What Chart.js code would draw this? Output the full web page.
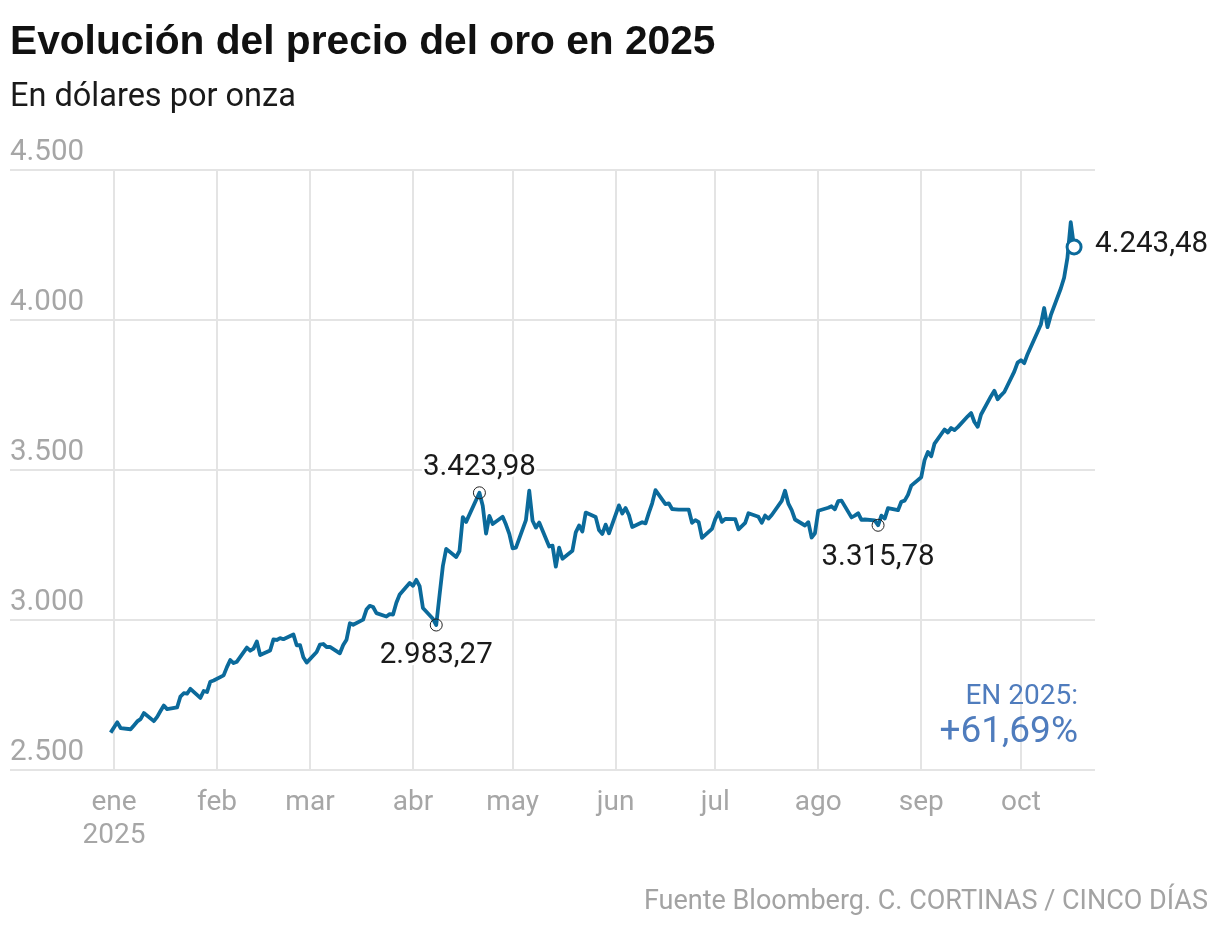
<!DOCTYPE html>
<html lang="es">
<head>
<meta charset="utf-8">
<script src="https://cdn.jsdelivr.net/npm/chart.js@4.4.1/dist/chart.umd.min.js"></script>
<style>
  html, body { margin: 0; padding: 0; background: #fff; }
  #wrap { position: relative; width: 1220px; height: 932px; overflow: hidden; }
  #c { position: absolute; left: 0; top: 0; }
  .txt { position: absolute; font-family: Roboto, "Liberation Sans", sans-serif; line-height: 1; white-space: nowrap; }
  #title { left: 10px; top: 20px; font-family: "Liberation Sans", Arial, sans-serif; font-size: 40.7px; font-weight: 700; color: #111111; }
  #subtitle { left: 10px; top: 79px; font-size: 32.5px; font-weight: 400; color: #1a1a1a; }
  #source { right: 12px; top: 887px; font-size: 27px; color: #a3a3a3; }
</style>
</head>
<body>
<div id="wrap">
  <canvas id="c" width="1220" height="932"></canvas>
  <div class="txt" id="title">Evolución del precio del oro en 2025</div>
  <div class="txt" id="subtitle">En dólares por onza</div>
  <div class="txt" id="source">Fuente Bloomberg. C. CORTINAS / CINCO DÍAS</div>
</div>
<script>
// ---- Data ----
const dates = [
  "2024-12-31",
  "2025-01-02","2025-01-03","2025-01-06","2025-01-07","2025-01-08","2025-01-09","2025-01-10",
  "2025-01-13","2025-01-14","2025-01-15","2025-01-16","2025-01-17","2025-01-20","2025-01-21",
  "2025-01-22","2025-01-23","2025-01-24","2025-01-27","2025-01-28","2025-01-29","2025-01-30","2025-01-31",
  "2025-02-03","2025-02-04","2025-02-05","2025-02-06","2025-02-07","2025-02-10","2025-02-11",
  "2025-02-12","2025-02-13","2025-02-14","2025-02-17","2025-02-18","2025-02-19","2025-02-20",
  "2025-02-21","2025-02-24","2025-02-25","2025-02-26","2025-02-27","2025-02-28",
  "2025-03-03","2025-03-04","2025-03-05","2025-03-06","2025-03-07","2025-03-10","2025-03-11",
  "2025-03-12","2025-03-13","2025-03-14","2025-03-17","2025-03-18","2025-03-19","2025-03-20",
  "2025-03-21","2025-03-24","2025-03-25","2025-03-26","2025-03-27","2025-03-28","2025-03-31",
  "2025-04-01","2025-04-02","2025-04-03","2025-04-04","2025-04-07","2025-04-08","2025-04-09",
  "2025-04-10","2025-04-11","2025-04-14","2025-04-15","2025-04-16","2025-04-17","2025-04-21",
  "2025-04-22","2025-04-23","2025-04-24","2025-04-25","2025-04-28","2025-04-29","2025-04-30",
  "2025-05-01","2025-05-02","2025-05-05","2025-05-06","2025-05-07","2025-05-08","2025-05-09",
  "2025-05-12","2025-05-13","2025-05-14","2025-05-15","2025-05-16","2025-05-19","2025-05-20",
  "2025-05-21","2025-05-22","2025-05-23","2025-05-26","2025-05-27","2025-05-28","2025-05-29","2025-05-30",
  "2025-06-02","2025-06-03","2025-06-04","2025-06-05","2025-06-06","2025-06-09","2025-06-10",
  "2025-06-11","2025-06-12","2025-06-13","2025-06-16","2025-06-17","2025-06-18","2025-06-19",
  "2025-06-20","2025-06-23","2025-06-24","2025-06-25","2025-06-26","2025-06-27","2025-06-30",
  "2025-07-01","2025-07-02","2025-07-03","2025-07-04","2025-07-07","2025-07-08","2025-07-09",
  "2025-07-10","2025-07-11","2025-07-14","2025-07-15","2025-07-16","2025-07-17","2025-07-18",
  "2025-07-21","2025-07-22","2025-07-23","2025-07-24","2025-07-25","2025-07-28","2025-07-29",
  "2025-07-30","2025-07-31",
  "2025-08-01","2025-08-04","2025-08-05","2025-08-06","2025-08-07","2025-08-08","2025-08-11",
  "2025-08-12","2025-08-13","2025-08-14","2025-08-15","2025-08-18","2025-08-19","2025-08-20",
  "2025-08-21","2025-08-22","2025-08-25","2025-08-26","2025-08-27","2025-08-28","2025-08-29",
  "2025-09-01","2025-09-02","2025-09-03","2025-09-04","2025-09-05","2025-09-08","2025-09-09",
  "2025-09-10","2025-09-11","2025-09-12","2025-09-15","2025-09-16","2025-09-17","2025-09-18",
  "2025-09-19","2025-09-22","2025-09-23","2025-09-24","2025-09-25","2025-09-26","2025-09-29","2025-09-30",
  "2025-10-01","2025-10-02","2025-10-03","2025-10-06","2025-10-07","2025-10-08","2025-10-09",
  "2025-10-10","2025-10-13","2025-10-14","2025-10-15","2025-10-16","2025-10-17"
];
const prices = [
  2624.50,
  2658.9,2639.8,2635.8,2648.6,2661.9,2669.6,2689.8,
  2662.9,2677.2,2696.7,2714.9,2702.9,2708.5,2744.9,
  2755.9,2754.3,2770.6,2740.4,2763.3,2759.8,2794.4,2798.4,
  2815.4,2842.9,2866.5,2856.3,2861.0,2908.2,2897.7,
  2904.6,2928.5,2883.1,2898.5,2935.3,2933.4,2939.6,
  2936.0,2951.9,2915.8,2916.3,2876.0,2858.0,
  2893.5,2918.0,2920.0,2910.0,2910.7,2889.0,2916.5,
  2934.4,2989.0,2984.2,3001.2,3034.6,3047.3,3043.3,
  3023.0,3011.7,3019.7,3018.2,3057.3,3084.9,3123.6,
  3114.0,3134.0,3113.0,3040.0,3004.0,2983.27,3083.0,
  3180.0,3237.0,3210.0,3230.0,3343.0,3327.0,3423.98,
  3381.0,3288.0,3347.0,3320.0,3344.0,3318.0,3287.0,
  3239.0,3241.0,3333.0,3431.0,3331.0,3308.0,3325.0,
  3245.0,3248.0,3178.0,3241.0,3204.0,3231.0,3292.0,
  3315.0,3295.0,3358.0,3343.0,3300.0,3287.0,3318.0,3289.0,
  3382.0,3355.0,3373.0,3350.0,3310.0,3326.0,3322.0,
  3357.0,3389.0,3433.0,3386.0,3389.0,3370.0,3369.0,
  3368.0,3368.0,3324.0,3333.0,3326.0,3274.0,3304.0,
  3336.0,3358.0,3327.0,3337.0,3336.0,3302.0,3313.0,
  3324.0,3356.0,3344.0,3324.0,3348.0,3338.0,3350.0,
  3397.0,3431.0,3388.0,3366.0,3335.0,3315.0,3326.0,
  3275.0,3289.0,
  3364.0,3374.0,3379.0,3369.0,3396.0,3398.0,3342.0,
  3348.0,3356.0,3334.0,3335.0,3332.0,3315.78,3348.0,
  3338.0,3373.0,3366.0,3394.0,3398.0,3417.0,3448.0,
  3476.0,3533.0,3560.0,3546.0,3588.0,3635.0,3625.0,
  3640.0,3633.0,3643.0,3679.0,3690.0,3660.0,3644.0,
  3685.0,3746.0,3764.0,3736.0,3749.0,3760.0,3828.0,3858.0,
  3866.0,3856.0,3886.0,3960.0,3985.0,4040.0,3976.0,
  4016.0,4105.0,4141.0,4207.0,4326.0,4243.48
];
const highlightDates = ["2025-04-08", "2025-04-21", "2025-08-19"];
const monthStartDates = ["2025-01-01","2025-02-01","2025-03-01","2025-04-01","2025-05-01","2025-06-01","2025-07-01","2025-08-01","2025-09-01","2025-10-01"];
const monthLabels = ["ene","feb","mar","abr","may","jun","jul","ago","sep","oct"];
const yTickValues = [2500, 3000, 3500, 4000, 4500];
const yTickLabels = ["2.500", "3.000", "3.500", "4.000", "4.500"];
const changeLabel = "EN 2025:";
const changeValue = "+61,69%";

// ---- helpers ----
const DAY = 86400000;
const ORIGIN = Date.UTC(2025, 0, 1);
function dayIndex(s) {
  const [y, m, d] = s.split("-").map(Number);
  return (Date.UTC(y, m - 1, d) - ORIGIN) / DAY;
}
function fmtEs(v) {
  const parts = v.toFixed(2).split(".");
  const int = parts[0].replace(/\B(?=(\d{3})+(?!\d))/g, ".");
  return int + "," + parts[1];
}
const points = dates.map((d, i) => ({ x: dayIndex(d), y: prices[i] }));
const monthTicks = monthStartDates.map(dayIndex);
const hiIdx = highlightDates.map(d => dates.indexOf(d));
const lastIdx = dates.length - 1;

const FONT = "Roboto, 'Liberation Sans', sans-serif";
const LINE = "#0b6a9b";
const GRAY = "#a6a6a6";
const BLUE = "#4f7cbd";

const labelPlugin = {
  id: "labels",
  afterDatasetsDraw(chart) {
    const ctx = chart.ctx;
    const meta = chart.getDatasetMeta(0);
    ctx.save();
    ctx.font = "29.5px " + FONT;
    ctx.fillStyle = "#1a1a1a";
    ctx.textBaseline = "middle";
    ctx.lineJoin = "round";
    ctx.strokeStyle = "#ffffff";
    ctx.lineWidth = 5;
    const offsets = { "2025-04-08": 31, "2025-04-21": -25, "2025-08-19": 32 };
    hiIdx.forEach(i => {
      const el = meta.data[i];
      const txt = fmtEs(prices[i]);
      ctx.textAlign = "center";
      const y = el.y + offsets[dates[i]];
      ctx.strokeText(txt, el.x, y);
      ctx.fillText(txt, el.x, y);
    });
    const last = meta.data[lastIdx];
    ctx.textAlign = "left";
    ctx.strokeText(fmtEs(prices[lastIdx]), last.x + 21, last.y - 2);
    ctx.fillText(fmtEs(prices[lastIdx]), last.x + 21, last.y - 2);

    // change in the year
    const area = chart.chartArea;
    ctx.textAlign = "right";
    ctx.textBaseline = "alphabetic";
    ctx.fillStyle = BLUE;
    ctx.font = "28px " + FONT;
    ctx.fillText(changeLabel, area.right - 17, 704);
    ctx.font = "37px " + FONT;
    ctx.fillText(changeValue, area.right - 17, 742);
    ctx.restore();
  }
};

new Chart(document.getElementById("c"), {
  type: "line",
  data: {
    datasets: [{
      data: points,
      borderColor: LINE,
      borderWidth: 3.8,
      borderJoinStyle: "round",
      tension: 0,
      pointRadius: ctx => ctx.dataIndex === lastIdx ? 7 : (hiIdx.includes(ctx.dataIndex) ? 6 : 0),
      pointBorderWidth: ctx => ctx.dataIndex === lastIdx ? 3 : 1,
      pointBorderColor: ctx => ctx.dataIndex === lastIdx ? LINE : "#222222",
      pointBackgroundColor: ctx => ctx.dataIndex === lastIdx ? "#ffffff" : "rgba(0,0,0,0)",
      pointHoverRadius: 0
    }]
  },
  options: {
    responsive: false,
    animation: false,
    devicePixelRatio: 1,
    layout: { padding: { left: 10, right: 125, top: 170, bottom: 0 } },
    plugins: { legend: { display: false }, tooltip: { enabled: false } },
    scales: {
      x: {
        type: "linear",
        min: -31.3,
        max: 295.3,
        afterBuildTicks: s => { s.ticks = monthTicks.map(v => ({ value: v })); },
        afterFit: s => { s.height = 162; },
        grid: { color: "#e4e4e4", lineWidth: 2, drawTicks: false },
        border: { display: false },
        ticks: {
          color: GRAY,
          font: { family: FONT, size: 28, lineHeight: 1.18 },
          padding: 16,
          maxRotation: 0,
          autoSkip: false,
          callback: (v) => {
            const i = monthTicks.indexOf(v);
            if (i === 0) return [monthLabels[0], "2025"];
            return i >= 0 ? monthLabels[i] : "";
          }
        }
      },
      y: {
        min: 2500,
        max: 4500,
        afterBuildTicks: s => { s.ticks = yTickValues.map(v => ({ value: v })); },
        afterFit: s => { s.width = 0; },
        grid: { color: "#e4e4e4", lineWidth: 2, drawTicks: false },
        border: { display: false },
        ticks: {
          mirror: true,
          padding: 0,
          labelOffset: -17,
          color: GRAY,
          font: { family: FONT, size: 29.5 },
          callback: v => yTickLabels[yTickValues.indexOf(v)]
        }
      }
    }
  },
  plugins: [labelPlugin]
});
</script>
</body>
</html>
